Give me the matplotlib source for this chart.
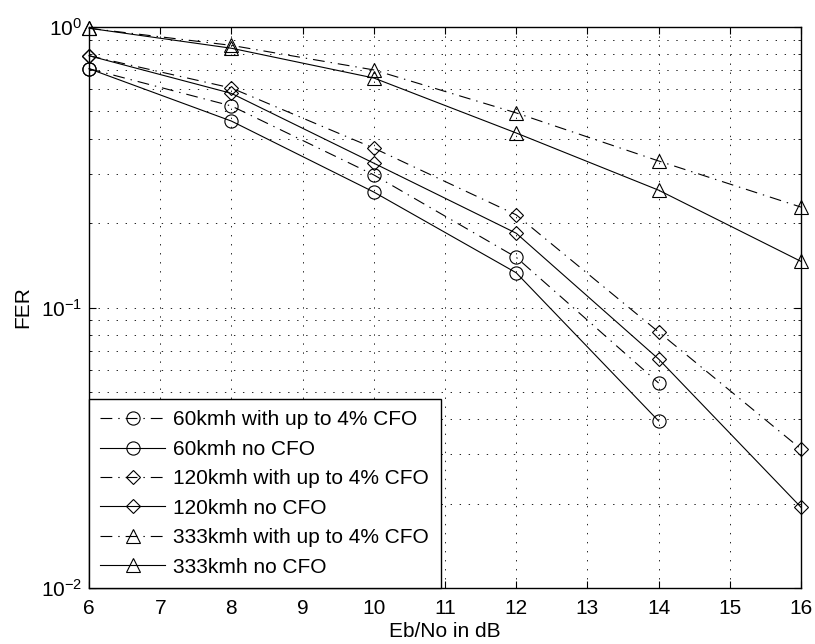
import numpy as np
import matplotlib
matplotlib.use("Agg")
import matplotlib.pyplot as plt
from matplotlib.ticker import LogLocator, NullFormatter

plt.rcParams['font.family'] = ['Liberation Sans', 'DejaVu Sans']
plt.rcParams['mathtext.fontset'] = 'custom'
plt.rcParams['mathtext.rm'] = 'Liberation Sans'
plt.rcParams['lines.scale_dashes'] = False

# Eb/No points (dB)
ebno = [6, 8, 10, 12, 14, 16]
ebno_60 = [6, 8, 10, 12, 14]

# FER values
fer_60_cfo = [0.71, 0.523, 0.297, 0.151, 0.0538]
fer_60_no = [0.71, 0.462, 0.258, 0.133, 0.0394]
fer_120_cfo = [0.79, 0.606, 0.370, 0.214, 0.0818, 0.0313]
fer_120_no = [0.79, 0.580, 0.327, 0.184, 0.0655, 0.0194]
fer_333_cfo = [0.99, 0.86, 0.703, 0.494, 0.333, 0.228]
fer_333_no = [0.99, 0.84, 0.658, 0.419, 0.262, 0.146]

labels = ['60kmh with up to 4% CFO', '60kmh no CFO',
          '120kmh with up to 4% CFO', '120kmh no CFO',
          '333kmh with up to 4% CFO', '333kmh no CFO']

dashdot = (0, (8.5, 4.3, 1.0, 4.3))
fs = 15

fig = plt.figure(figsize=(8.15, 6.44), dpi=100)
ax = fig.add_axes([89/815, 1-588/644, (801-89)/815, (588-27)/644])

series = [(ebno_60, fer_60_cfo, 'o', dashdot),
          (ebno_60, fer_60_no, 'o', '-'),
          (ebno, fer_120_cfo, 'D', dashdot),
          (ebno, fer_120_no, 'D', '-'),
          (ebno, fer_333_cfo, '^', dashdot),
          (ebno, fer_333_no, '^', '-')]

for (xs, ys, m, ls), lab in zip(series, labels):
    ms = 7.5 if m == 'D' else 9.5
    ax.semilogy(xs, ys, color='k', linestyle=ls, linewidth=0.8, marker=m,
                markersize=ms, markerfacecolor='none', markeredgecolor='k',
                markeredgewidth=0.8, label=lab, clip_on=False)

ax.set_xlim(6, 16)
ax.set_ylim(1e-2, 1)
ax.set_xticks(range(6, 17))
ax.yaxis.set_major_locator(LogLocator(base=10))
ax.yaxis.set_minor_locator(LogLocator(base=10, subs=np.arange(2, 10)))
ax.yaxis.set_minor_formatter(NullFormatter())

ax.grid(True, which='both', color='k', linestyle=(0, (1, 5.5)), linewidth=0.6)
ax.tick_params(which='both', direction='in', top=True, right=True,
               labelsize=fs)
ax.tick_params(axis='x', pad=8)
ax.tick_params(axis='y', pad=5)
ax.tick_params(which='major', length=5, width=0.8)
ax.tick_params(which='minor', length=2.5, width=0.6)
for s in ax.spines.values():
    s.set_linewidth(1.0)

ax.set_xlabel('Eb/No in dB', fontsize=fs, labelpad=3)
ax.set_ylabel('FER', fontsize=fs, labelpad=6)

leg = ax.legend(loc='lower left', borderaxespad=0, numpoints=1, fontsize=fs,
                handlelength=3.1, handletextpad=0.4, labelspacing=0.5,
                fancybox=False, framealpha=1, edgecolor='k', borderpad=0.55)
leg.get_frame().set_linewidth(1.0)

fig.savefig('out.png', dpi=100)
